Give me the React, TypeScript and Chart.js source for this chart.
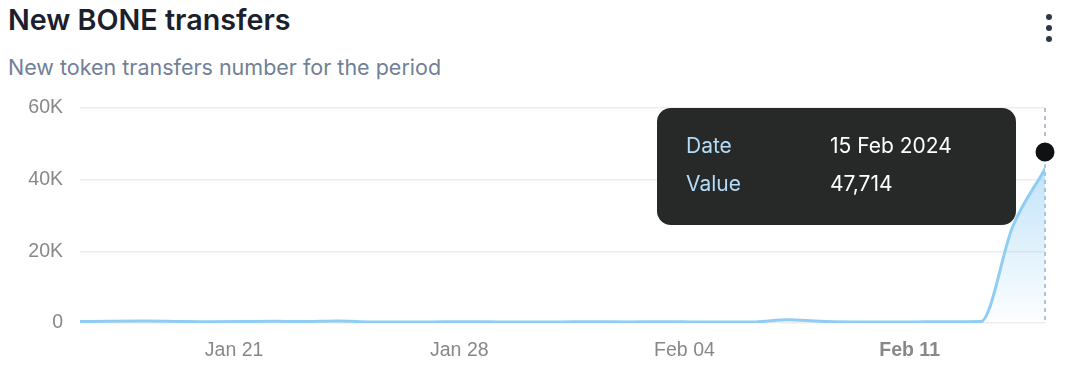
import React, { useEffect, useRef } from "react";
import { Chart, registerables } from "chart.js";

Chart.register(...registerables);

const dates = [
  "Jan 16", "Jan 17", "Jan 18", "Jan 19", "Jan 20", "Jan 21", "Jan 22", "Jan 23",
  "Jan 24", "Jan 25", "Jan 26", "Jan 27", "Jan 28", "Jan 29", "Jan 30", "Jan 31",
  "Feb 01", "Feb 02", "Feb 03", "Feb 04", "Feb 05", "Feb 06", "Feb 07", "Feb 08",
  "Feb 09", "Feb 10", "Feb 11", "Feb 12", "Feb 13", "Feb 14", "Feb 15",
];
const transfers = [
  400, 500, 550, 450, 350, 400, 500, 400, 550, 300, 250, 300, 350, 300, 250, 300,
  350, 300, 350, 300, 250, 300, 900, 500, 300, 250, 300, 350, 400, 27000, 43000,
];
const tickLabels = ["Jan 21", "Jan 28", "Feb 04", "Feb 11"];
const boldTick = "Feb 11";
const yTicks = [0, 20000, 40000, 60000];
const tzShiftDays = 5 / 24;

const hoverDate = "15 Feb 2024";
const hoverValue = 47714;
const hoverIndex = 30;

const LINE = "rgb(144,205,244)";
const AXIS_FONT = "'Liberation Sans', Arial, sans-serif";

export default function App() {
  const ref = useRef<HTMLCanvasElement | null>(null);

  useEffect(() => {
    if (!ref.current) return;
    const tickPos = tickLabels.map((l) => dates.indexOf(l) - tzShiftDays);

    const overlay = {
      id: "overlay",
      beforeDatasetsDraw(chart: any) {
        const { ctx, chartArea } = chart;
        const x = chart.scales.x.getPixelForValue(hoverIndex);
        ctx.save();
        ctx.strokeStyle = "#a0aec0";
        ctx.lineWidth = 1.5;
        ctx.setLineDash([4, 4]);
        ctx.beginPath();
        ctx.moveTo(x, chartArea.top);
        ctx.lineTo(x, chartArea.bottom);
        ctx.stroke();
        ctx.restore();
      },
      afterDraw(chart: any) {
        const { ctx, chartArea } = chart;
        const px = chart.scales.x.getPixelForValue(hoverIndex);
        const w = 359, h = 117, r = 14;
        const right = px - 29;
        const left = right - w;
        const top = chartArea.top;
        ctx.save();
        ctx.fillStyle = "rgba(32,33,33,0.97)";
        ctx.beginPath();
        ctx.roundRect(left, top, w, h, r);
        ctx.fill();
        ctx.font = "21px Inter";
        ctx.textBaseline = "middle";
        ctx.fillStyle = "#b3dcf7";
        ctx.fillText("Date", left + 29, top + 39);
        ctx.fillText("Value", left + 29, top + 77);
        ctx.fillStyle = "#ffffff";
        ctx.fillText(hoverDate, left + 173, top + 39);
        ctx.fillText(hoverValue.toLocaleString("en-US"), left + 173, top + 77);
        ctx.restore();
      },
    };

    const chart = new Chart(ref.current, {
      type: "line",
      data: {
        datasets: [
          {
            data: transfers.map((v, i) => ({ x: i, y: v })),
            borderColor: LINE,
            borderWidth: 3,
            borderCapStyle: "round",
            pointRadius: 0,
            cubicInterpolationMode: "monotone",
            fill: "origin",
            backgroundColor: (c: any) => {
              const ca = c.chart.chartArea;
              if (!ca) return "rgba(144,205,244,0.3)";
              const g = c.chart.ctx.createLinearGradient(0, ca.top, 0, ca.bottom);
              g.addColorStop(0, "rgba(144,205,244,0.75)");
              g.addColorStop(1, "rgba(144,205,244,0.02)");
              return g;
            },
          },
          {
            data: [{ x: hoverIndex, y: hoverValue }],
            showLine: false,
            pointRadius: 11,
            pointBackgroundColor: "#101112",
            pointBorderColor: "#ffffff",
            pointBorderWidth: 3,
            clip: false,
          } as any,
        ],
      },
      options: {
        animation: false,
        responsive: true,
        maintainAspectRatio: false,
        events: [],
        layout: { autoPadding: false, padding: { top: 18, right: 31, left: 0, bottom: 0 } },
        plugins: { legend: { display: false }, tooltip: { enabled: false } },
        scales: {
          x: {
            type: "linear",
            min: 0,
            max: dates.length - 1,
            grid: { display: false, drawTicks: false },
            border: { display: false },
            afterBuildTicks: (s: any) => {
              s.ticks = tickPos.map((v) => ({ value: v }));
            },
            afterFit: (s: any) => {
              s.height = 55;
              s.paddingLeft = 0;
              s.paddingRight = 0;
            },
            ticks: {
              autoSkip: false,
              maxRotation: 0,
              padding: 16,
              color: "#888888",
              font: (c: any) => ({
                family: AXIS_FONT,
                size: 19.5,
                weight: tickLabels[c.index] === boldTick ? "bold" : "normal",
              }),
              callback: (_v: any, i: number) => tickLabels[i],
            },
          },
          y: {
            min: 0,
            max: 60000,
            afterBuildTicks: (s: any) => {
              s.ticks = yTicks.map((v) => ({ value: v }));
            },
            afterFit: (s: any) => {
              s.width = 80;
              s.paddingTop = 0;
              s.paddingBottom = 0;
            },
            grid: { color: "#ededed", lineWidth: 1.5, drawTicks: false },
            border: { display: false },
            ticks: {
              padding: 17,
              color: "#888888",
              font: { family: AXIS_FONT, size: 19.5 },
              callback: (v: any) => (v === 0 ? "0" : v / 1000 + "K"),
            },
          },
        },
      },
      plugins: [overlay],
    });
    return () => chart.destroy();
  }, []);

  const dot: React.CSSProperties = {
    position: "absolute",
    left: 1046,
    width: 6,
    height: 6,
    borderRadius: 3,
    background: "#2d3748",
  };

  return (
    <div
      style={{
        position: "fixed",
        left: 0,
        top: 0,
        width: 1076,
        height: 378,
        background: "#fff",
        fontFamily: "Inter, sans-serif",
      }}
    >
      <div
        style={{
          position: "absolute",
          left: 8,
          top: 6,
          fontSize: 28.7,
          lineHeight: 1,
          fontWeight: 600,
          color: "#1a202c",
          whiteSpace: "nowrap",
        }}
      >
        New BONE transfers
      </div>
      <div
        style={{
          position: "absolute",
          left: 8,
          top: 57,
          fontSize: 21.5,
          lineHeight: 1,
          color: "#718096",
          whiteSpace: "nowrap",
        }}
      >
        New token transfers number for the period
      </div>
      <div style={{ ...dot, top: 14 }} />
      <div style={{ ...dot, top: 25 }} />
      <div style={{ ...dot, top: 36 }} />
      <div style={{ position: "absolute", left: 0, top: 90, width: 1076, height: 288 }}>
        <canvas ref={ref} />
      </div>
    </div>
  );
}
